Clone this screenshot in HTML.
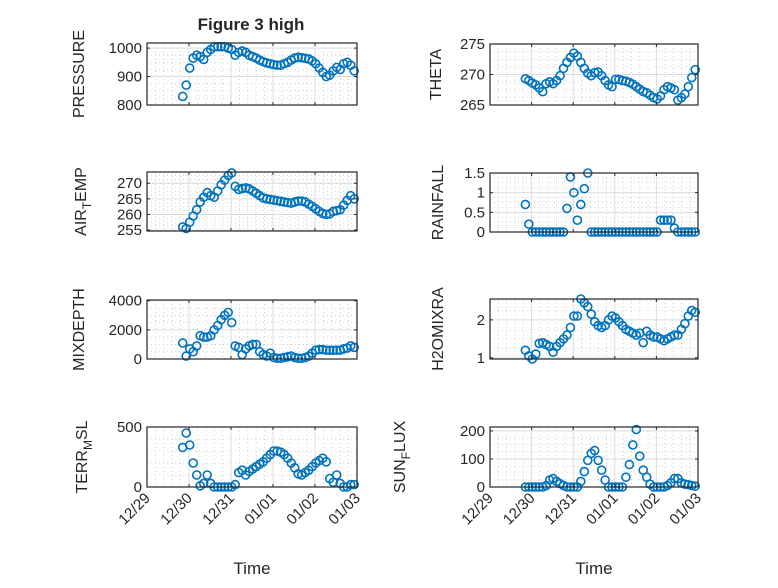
<!DOCTYPE html>
<html><head><meta charset="utf-8"><style>
html,body{margin:0;padding:0;background:#fff}
svg text{font-family:"Liberation Sans","DejaVu Sans",sans-serif;fill:#262626}
</style></head><body>
<svg id="fig" width="778" height="583" viewBox="0 0 778 583" xmlns="http://www.w3.org/2000/svg">
<rect width="778" height="583" fill="#fff"/>
<text x="251" y="30" font-size="17" font-weight="bold" text-anchor="middle">Figure 3 high</text>
</svg>
<script>
const dateTicks = ["12/29","12/30","12/31","01/01","01/02","01/03"];
const startDay = 0.85;
const stepDay = 1/12;
const pressure = [830,870,930,965,975,970,960,985,995,1005,1005,1005,1005,1000,995,975,985,990,985,975,970,965,958,952,948,945,942,940,940,945,950,958,965,968,966,964,962,955,945,930,915,900,905,920,932,925,945,950,940,920];
const airTemp = [256,255.5,257.5,259.5,261.5,264,265.5,267,266,265.5,267.5,269.5,271,272.5,273.3,269,268,268.3,268.5,268.2,267.5,266.8,266,265.3,265,264.8,264.6,264.4,264.2,264,263.8,263.6,264,264.3,264.3,264,263.3,262.6,261.8,261,260.3,260,260.2,261,261.2,261.5,263,264.5,266,265];
const mixDepth = [1100,200,700,500,900,1600,1500,1500,1600,2000,2300,2700,3000,3200,2500,900,800,300,700,900,1000,1000,500,300,200,400,100,50,50,100,150,200,100,50,50,100,200,400,600,650,650,600,600,600,600,600,700,750,900,800];
const terrMsl = [330,450,350,200,100,10,30,100,30,0,0,0,0,0,0,20,120,140,100,130,150,170,190,210,240,270,300,300,290,270,240,200,160,110,100,120,140,170,200,220,240,210,70,40,100,30,0,0,20,20];
const theta = [269.3,269,268.6,268.3,267.8,267.2,268.5,268.8,268.5,269,269.8,271,272,272.8,273.5,273,272,271,270.2,269.8,270.3,270.4,269.8,269,268.3,268,269.2,269.2,269,268.9,268.7,268.4,268,267.6,267.2,267,266.6,266.2,266,266.5,267.5,268,267.8,267.5,265.8,266.2,266.8,268,269.5,270.8];
const rainfall = [0.7,0.2,0,0,0,0,0,0,0,0,0,0,0.6,1.4,1.0,0.3,0.7,1.1,1.5,0,0,0,0,0,0,0,0,0,0,0,0,0,0,0,0,0,0,0,0,0.3,0.3,0.3,0.3,0.1,0,0,0,0,0,0];
const h2oMix = [1.2,1.05,0.97,1.1,1.38,1.4,1.35,1.3,1.15,1.3,1.4,1.5,1.6,1.8,2.1,2.1,2.55,2.45,2.35,2.15,1.95,1.85,1.8,1.85,2.0,2.1,2.05,1.95,1.85,1.75,1.7,1.65,1.6,1.65,1.4,1.7,1.6,1.55,1.55,1.5,1.45,1.5,1.55,1.6,1.6,1.75,1.9,2.1,2.25,2.2];
const sunFlux = [0,0,0,0,0,0,5,25,30,20,12,5,0,0,0,0,20,55,95,120,130,95,60,25,0,0,0,0,0,35,80,150,205,110,60,35,10,0,0,0,0,5,15,30,30,15,10,8,5,3];

const NS="http://www.w3.org/2000/svg";
const svg=document.getElementById('fig');
function mk(tag,attrs,parent){const e=document.createElementNS(NS,tag);for(const k in attrs)e.setAttribute(k,attrs[k]);(parent||svg).appendChild(e);return e;}

const panels=[
 {name:'pressure',label:['PRESSURE'],data:pressure,x0:147,x1:357,y0:43,y1:105,ymin:800,ymax:1018,ticks:[800,900,1000],minor:25,lx:84,bottom:false},
 {name:'theta',label:['THETA'],data:theta,x0:490,x1:698,y0:44,y1:105,ymin:265,ymax:275,ticks:[265,270,275],minor:1.25,lx:441,bottom:false},
 {name:'air-temp',label:['AIR','T','EMP'],data:airTemp,x0:147,x1:357,y0:172,y1:231,ymin:254.7,ymax:273.6,ticks:[255,260,265,270],minor:1.25,lx:86,bottom:false},
 {name:'rainfall',label:['RAINFALL'],data:rainfall,x0:490,x1:698,y0:173,y1:232,ymin:0,ymax:1.5,ticks:[0,0.5,1,1.5],minor:0.125,lx:443,bottom:false},
 {name:'mixdepth',label:['MIXDEPTH'],data:mixDepth,x0:147,x1:357,y0:300,y1:359,ymin:0,ymax:4050,ticks:[0,2000,4000],minor:500,lx:84,bottom:false},
 {name:'h2omixra',label:['H2OMIXRA'],data:h2oMix,x0:490,x1:698,y0:299,y1:359,ymin:0.97,ymax:2.55,ticks:[1,2],minor:0.25,lx:443,bottom:false},
 {name:'terr-msl',label:['TERR','M','SL'],data:terrMsl,x0:147,x1:357,y0:427,y1:487,ymin:0,ymax:500,ticks:[0,500],minor:100,lx:87,bottom:true},
 {name:'sun-flux',label:['SUN','F','LUX'],data:sunFlux,x0:490,x1:698,y0:427,y1:487,ymin:0,ymax:214,ticks:[0,100,200],minor:25,lx:405,bottom:true}
];

panels.forEach(p=>{
 const g=mk('g',{});
 
 
 const xs=d=>p.x0+(p.x1-p.x0)*d/5;
 const ys=v=>p.y1-(p.y1-p.y0)*(v-p.ymin)/(p.ymax-p.ymin);
 mk('rect',{x:p.x0,y:p.y0,width:p.x1-p.x0,height:p.y1-p.y0,fill:'#fff'},g);
 for(let d=0;d<5;d+=0.2){ if(Math.abs(d-Math.round(d))<1e-6)continue; mk('line',{x1:xs(d),x2:xs(d),y1:p.y0,y2:p.y1,stroke:'#c8c8c8','stroke-width':0.8,'stroke-dasharray':'1,3'},g);}
 for(let v=Math.ceil(p.ymin/p.minor)*p.minor;v<=p.ymax;v+=p.minor){ if(p.ticks.some(t=>Math.abs(t-v)<1e-6))continue; mk('line',{x1:p.x0,x2:p.x1,y1:ys(v),y2:ys(v),stroke:'#c8c8c8','stroke-width':0.8,'stroke-dasharray':'1,3'},g);}
 for(let d=1;d<5;d++) mk('line',{x1:xs(d),x2:xs(d),y1:p.y0,y2:p.y1,stroke:'#dcdcdc','stroke-width':1},g);
 p.ticks.forEach(v=>{mk('line',{x1:p.x0,x2:p.x1,y1:ys(v),y2:ys(v),stroke:'#dcdcdc','stroke-width':1},g);});
 p.data.forEach((v,i)=>{
   const c=mk('circle',{cx:xs(startDay+i*stepDay),cy:ys(v),r:4,fill:'none',stroke:'#0072BD','stroke-width':1.6},g);
   
   
 });
 mk('rect',{x:p.x0,y:p.y0,width:p.x1-p.x0,height:p.y1-p.y0,fill:'none',stroke:'#262626','stroke-width':1.2},g);
 for(let d=0;d<=5;d++){ mk('line',{x1:xs(d),x2:xs(d),y1:p.y1,y2:p.y1-3,stroke:'#262626'},g); mk('line',{x1:xs(d),x2:xs(d),y1:p.y0,y2:p.y0+3,stroke:'#262626'},g);}
 p.ticks.forEach(v=>{
   mk('line',{x1:p.x0,x2:p.x0+3,y1:ys(v),y2:ys(v),stroke:'#262626'},g);
   mk('line',{x1:p.x1,x2:p.x1-3,y1:ys(v),y2:ys(v),stroke:'#262626'},g);
   const t=mk('text',{x:p.x0-5,y:ys(v)+5,'font-size':15,'text-anchor':'end'},g);
   t.textContent=String(v);
   
   
 });
 const cy=(p.y0+p.y1)/2;
 const yl=mk('text',{x:0,y:0,'font-size':16,'text-anchor':'middle',transform:`translate(${p.lx},${cy}) rotate(-90)`},g);
 
 
 if(p.label.length===1){yl.textContent=p.label[0];}
 else{
   const a=mk('tspan',{},yl);a.textContent=p.label[0];
   const b=mk('tspan',{dy:5,'font-size':12},yl);b.textContent=p.label[1];
   const c=mk('tspan',{dy:-5},yl);c.textContent=p.label[2];
 }
 if(p.bottom){
   dateTicks.forEach((s,d)=>{
     const t=mk('text',{x:0,y:0,'font-size':15,'text-anchor':'end',transform:`translate(${xs(d)+4},${p.y1+12}) rotate(-45)`},g);
     t.textContent=s;
     
     
   });
   const xt=mk('text',{x:(p.x0+p.x1)/2,y:574,'font-size':17,'text-anchor':'middle'},g);
   xt.textContent='Time';
   
   
 }
});
</script>
</body></html>
